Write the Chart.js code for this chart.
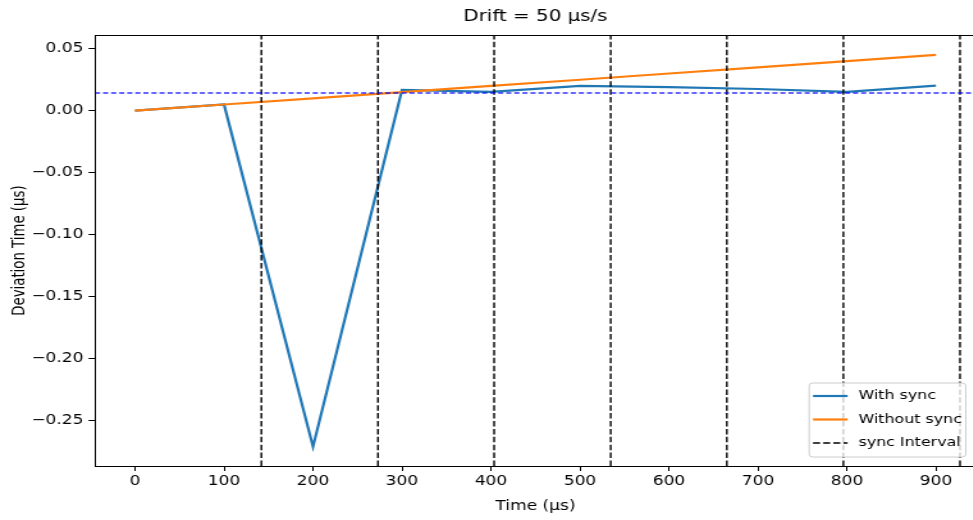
<!DOCTYPE html>
<html>
<head>
<meta charset="utf-8">
<script src="https://cdn.jsdelivr.net/npm/chart.js@4.4.1/dist/chart.umd.min.js"></script>
<style>
html,body{margin:0;padding:0;overflow:hidden;background:#fff;width:973px;height:520px;}
#wrap{position:absolute;left:0;top:0;width:770px;height:520px;transform:scaleX(1.28);transform-origin:0 0;}
canvas{display:block;}
</style>
</head>
<body>
<div id="wrap"><canvas id="c" width="770" height="520" style="width:770px;height:520px"></canvas></div>
<script>
// ---- data ----
const timePoints   = [0, 100, 200, 300, 400, 500, 600, 700, 800, 900];
const withSync     = [0, 0.005, -0.271, 0.0168, 0.0152, 0.0200, 0.0190, 0.0175, 0.0152, 0.0202];
const withoutSync  = [0, 0.005, 0.010, 0.015, 0.020, 0.025, 0.030, 0.035, 0.040, 0.045];
const syncTimes    = [142, 273, 403.5, 534.5, 665, 796, 927];
const syncLevel    = 0.0143;
const xTickValues  = [0, 100, 200, 300, 400, 500, 600, 700, 800, 900];
const yTickValues  = [-0.25, -0.20, -0.15, -0.10, -0.05, 0.00, 0.05];
const xLimits      = [-45, 945];
const yLimits      = [-0.2866, 0.0610];
const seriesLabels = ['With sync', 'Without sync', 'sync Interval'];
const chartTitle   = 'Drift = 50 μs/s';
const xTitle       = 'Time (μs)';
const yTitle       = 'Deviation Time (μs)';

const C_BLUE = '#1f77b4', C_ORANGE = '#ff7f0e';
const FONT_SIZE = 13.3;
const LEGEND_FONT = 12.4;

Chart.defaults.font.family = '"DejaVu Sans", sans-serif';
Chart.defaults.color = '#000';

const toXY = (xs, ys) => xs.map((x, i) => ({x: x, y: ys[i]}));
const vlineData = syncTimes.flatMap(t => [{x: t, y: yLimits[0]}, {x: t, y: yLimits[1]}, {x: t, y: null}]);
const hlineData = [{x: xLimits[0], y: syncLevel}, {x: xLimits[1], y: syncLevel}];

// centre the title over the plot area, as matplotlib does
const titleOverAxes = {
  id: 'titleOverAxes',
  afterLayout(chart) {
    const tb = chart.titleBlock, a = chart.chartArea;
    if (tb) { tb.left = a.left; tb.right = a.right; tb.width = a.right - a.left; }
  }
};

const framePlugin = {
  id: 'frame',
  afterDatasetsDraw(chart) {
    const ctx = chart.ctx, a = chart.chartArea;
    ctx.save();
    ctx.strokeStyle = '#000';
    ctx.lineWidth = 1;
    ctx.strokeRect(Math.round(a.left) + 0.5, Math.round(a.top) + 0.5, a.right - a.left, Math.round(a.bottom) - Math.round(a.top));
    ctx.restore();
  }
};

const legendPlugin = {
  id: 'mplLegend',
  afterDraw(chart) {
    const ctx = chart.ctx, a = chart.chartArea;
    const items = [
      {label: seriesLabels[0], color: C_BLUE, dash: [], width: 2.2},
      {label: seriesLabels[1], color: C_ORANGE, dash: [], width: 2.2},
      {label: seriesLabels[2], color: '#000', dash: [5.5, 2.4], width: 1.4}
    ];
    ctx.save();
    ctx.font = LEGEND_FONT + 'px "DejaVu Sans", sans-serif';
    const textW = Math.max(...items.map(i => ctx.measureText(i.label).width));
    const padX = 3, handleLen = 27, gap = 8.5, rowH = 23.5, h = 74;
    const w = padX + handleLen + gap + textW + padX;
    const right = a.right - 8, bottom = a.bottom - 9;
    const left = right - w, top = bottom - h;
    ctx.beginPath();
    if (ctx.roundRect) ctx.roundRect(left, top, w, h, 3); else ctx.rect(left, top, w, h);
    ctx.fillStyle = 'rgba(255,255,255,0.8)';
    ctx.fill();
    ctx.strokeStyle = '#cccccc';
    ctx.lineWidth = 1;
    ctx.stroke();
    items.forEach((it, i) => {
      const cy = top + 13 + i * rowH;
      ctx.beginPath();
      ctx.setLineDash(it.dash);
      ctx.strokeStyle = it.color;
      ctx.lineWidth = it.width;
      ctx.moveTo(left + padX, cy);
      ctx.lineTo(left + padX + handleLen, cy);
      ctx.stroke();
      ctx.setLineDash([]);
      ctx.fillStyle = '#000';
      ctx.textBaseline = 'middle';
      ctx.textAlign = 'left';
      ctx.fillText(it.label, left + padX + handleLen + gap, cy);
    });
    ctx.restore();
  }
};

new Chart(document.getElementById('c'), {
  type: 'line',
  data: {
    datasets: [
      {label: seriesLabels[0], data: toXY(timePoints, withSync), borderColor: C_BLUE, borderWidth: 2.2,
       pointRadius: 0, fill: false, order: 4},
      {label: seriesLabels[1], data: toXY(timePoints, withoutSync), borderColor: C_ORANGE, borderWidth: 2.2,
       pointRadius: 0, fill: false, order: 3},
      {label: seriesLabels[2], data: vlineData, borderColor: '#000', borderWidth: 1.4, borderDash: [5.5, 2.4],
       pointRadius: 0, fill: false, spanGaps: false, order: 2},
      {label: 'level', data: hlineData, borderColor: 'rgba(0,0,255,0.8)', borderWidth: 1.3, borderDash: [4, 2.3],
       pointRadius: 0, fill: false, order: 1}
    ]
  },
  options: {
    responsive: false,
    animation: false,
    devicePixelRatio: 1,
    layout: {padding: {left: 0, right: 7.5, top: 0, bottom: 0}},
    plugins: {
      legend: {display: false},
      tooltip: {enabled: false},
      title: {display: true, text: chartTitle, color: '#000',
              font: {size: 15.5, weight: 'normal'}, padding: {top: 8, bottom: 8.5}}
    },
    scales: {
      x: {
        type: 'linear', min: xLimits[0], max: xLimits[1],
        afterBuildTicks: s => { s.ticks = xTickValues.map(v => ({value: v})); },
        afterFit: s => { s.height = 54; },
        ticks: {font: {size: FONT_SIZE}, color: '#000', padding: 3, maxRotation: 0, autoSkip: false,
                callback: v => String(v)},
        grid: {drawOnChartArea: false, drawTicks: true, tickLength: 5, color: '#000', lineWidth: 1},
        border: {display: true, color: '#000', width: 1},
        title: {display: true, text: xTitle, color: '#000', font: {size: FONT_SIZE}, padding: {top: 0, bottom: 5}}
      },
      y: {
        type: 'linear', min: yLimits[0], max: yLimits[1],
        afterBuildTicks: s => { s.ticks = yTickValues.map(v => ({value: v})); },
        afterFit: s => { s.width = 74.2; },
        ticks: {font: {size: FONT_SIZE}, color: '#000', padding: 4, autoSkip: false,
                callback: v => (v < -1e-9 ? '\u2212' : '') + Math.abs(v).toFixed(2)},
        grid: {drawOnChartArea: false, drawTicks: true, tickLength: 5, color: '#000', lineWidth: 1},
        border: {display: true, color: '#000', width: 1},
        title: {display: true, text: yTitle, color: '#000', font: {size: FONT_SIZE}, padding: {top: 8, bottom: 0}}
      }
    }
  },
  plugins: [titleOverAxes, framePlugin, legendPlugin]
});
</script>
</body>
</html>
